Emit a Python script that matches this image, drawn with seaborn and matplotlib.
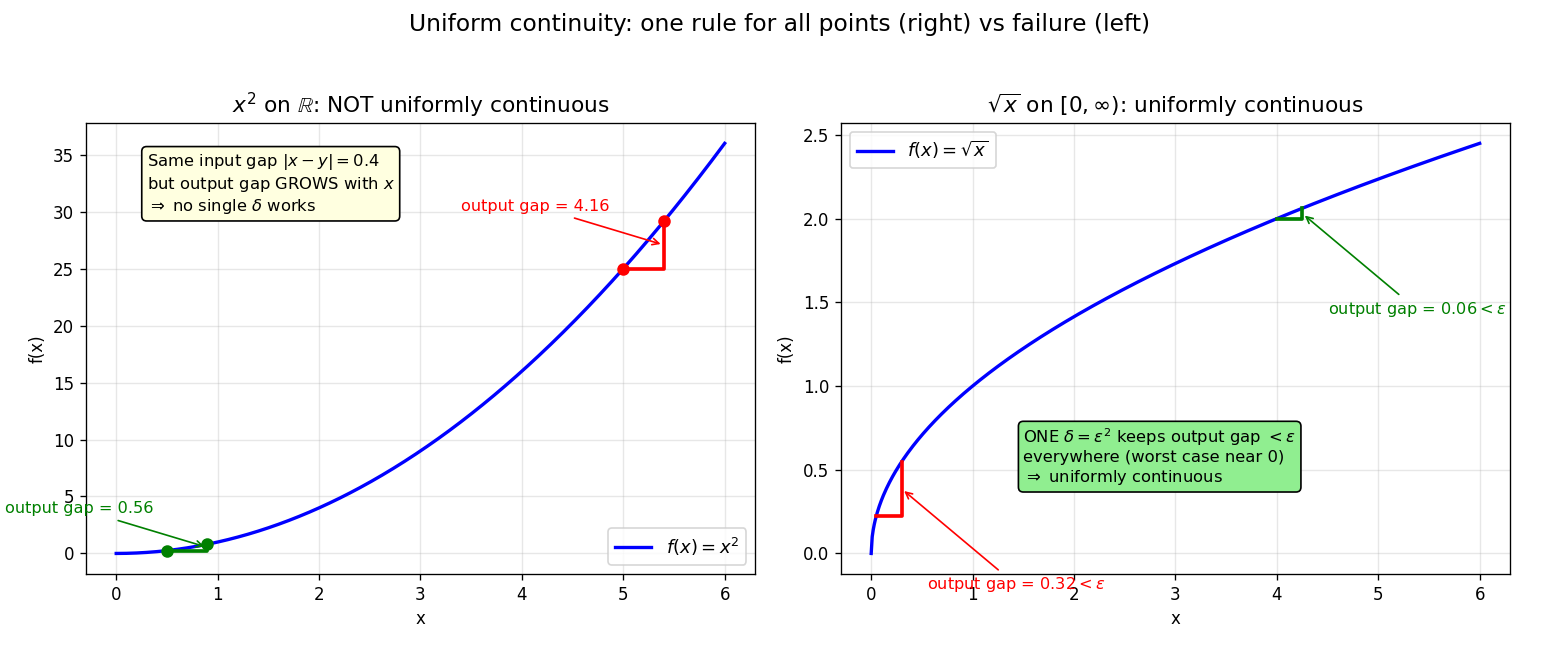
import numpy as np
import pandas as pd
import matplotlib
matplotlib.use("Agg")
import matplotlib.pyplot as plt
import seaborn as sns

# ---- data ----
x_min, x_max = 0.0, 6.0
n_pts = 600
delta_left = 0.4
left_pairs_x = [0.5, 5.0]          # starting x of the two step pairs (left panel)
left_colors = ["green", "red"]
left_gap_labels = ["output gap = 0.56", "output gap = 4.16"]
right_pairs_x = [0.05, 4.0]        # starting x of the two step pairs (right panel)
delta_right = 0.25
right_colors = ["red", "green"]
right_gap_labels = [r"output gap = 0.32$<\varepsilon$", r"output gap = 0.06$<\varepsilon$"]


def f_sq(x):
    return np.asarray(x) ** 2


def f_sqrt(x):
    return np.sqrt(np.asarray(x))


xs = np.linspace(x_min, x_max, n_pts)
df_left = pd.DataFrame({"x": xs, "y": f_sq(xs)})
df_right = pd.DataFrame({"x": xs, "y": f_sqrt(xs)})

fig, axes = plt.subplots(1, 2, figsize=(13.0, 6.5 / 1.2), dpi=120)
fig.subplots_adjust(left=0.055, right=0.968, top=0.811, bottom=0.117, wspace=0.128)

# ---- left panel ----
ax = axes[0]
sns.lineplot(data=df_left, x="x", y="y", ax=ax, color="blue", linewidth=2,
             label=r"$f(x) = x^2$")
for x0, c, lab in zip(left_pairs_x, left_colors, left_gap_labels):
    x1 = x0 + delta_left
    f0, f1 = float(f_sq(x0)), float(f_sq(x1))
    ax.plot([x0, x1, x1], [f0, f0, f1], color=c, linewidth=2.2)
    ax.plot([x0, x1], [f0, f1], "o", color=c, markersize=6.5)
    mid = (f0 + f1) / 2
    ax.annotate(lab, xy=(x1, mid), xytext=(x1 - 2, mid + 3), color=c, fontsize=9.7,
                arrowprops=dict(arrowstyle="->", color=c, lw=1))
ax.text(0.3, 35.2, "Same input gap $|x-y|=0.4$\nbut output gap GROWS with $x$\n"
        r"$\Rightarrow$ no single $\delta$ works", fontsize=9.8, va="top", ha="left",
        bbox=dict(boxstyle="round", facecolor="lightyellow", edgecolor="black"))
ax.set_title(r"$x^2$ on $\mathbb{R}$: NOT uniformly continuous", fontsize=13)
ax.set_xlabel("x")
ax.set_ylabel("f(x)")
ax.grid(alpha=0.3)
ax.legend(loc="lower right", fontsize=10.8)

# ---- right panel ----
ax = axes[1]
sns.lineplot(data=df_right, x="x", y="y", ax=ax, color="blue", linewidth=2,
             label=r"$f(x) = \sqrt{x}$")
for x0, c, lab in zip(right_pairs_x, right_colors, right_gap_labels):
    x1 = x0 + delta_right
    f0, f1 = float(f_sqrt(x0)), float(f_sqrt(x1))
    ax.plot([x0, x1, x1], [f0, f0, f1], color=c, linewidth=2.2)
    mid = (f0 + f1) / 2
    ax.annotate(lab, xy=(x1, mid), xytext=(x1 + 0.25, mid - 0.6), color=c, fontsize=9.7,
                arrowprops=dict(arrowstyle="->", color=c, lw=1))
ax.text(1.5, 0.76, r"ONE $\delta=\varepsilon^2$ keeps output gap $<\varepsilon$" "\n"
        "everywhere (worst case near 0)\n" r"$\Rightarrow$ uniformly continuous",
        fontsize=9.8, va="top", ha="left",
        bbox=dict(boxstyle="round", facecolor="lightgreen", edgecolor="black"))
ax.set_title(r"$\sqrt{x}$ on $[0,\infty)$: uniformly continuous", fontsize=13)
ax.set_xlabel("x")
ax.set_ylabel("f(x)")
ax.grid(alpha=0.3)
ax.legend(loc="upper left", fontsize=10.8)

fig.suptitle("Uniform continuity: one rule for all points (right) vs failure (left)",
             fontsize=14, y=0.98)

fig.savefig("out.png", dpi=120)
